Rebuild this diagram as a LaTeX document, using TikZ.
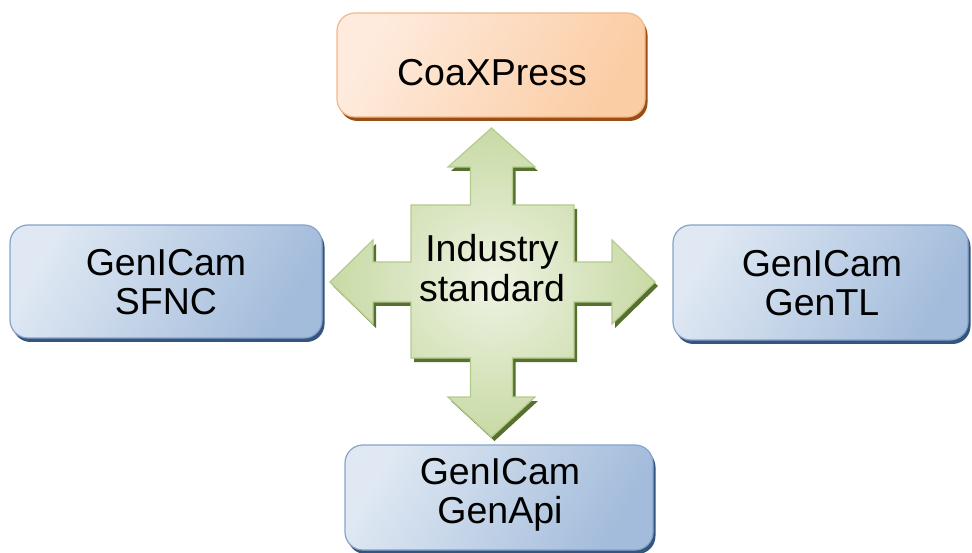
\documentclass[tikz,border=0pt]{standalone}
\usepackage{fontspec}
\setmainfont{Liberation Sans}
\usetikzlibrary{shadows}

\definecolor{blueLight}{HTML}{DFE8F3}
\definecolor{blueDark}{HTML}{A3BCDB}
\definecolor{blueLine}{HTML}{86A3CB}
\definecolor{blueShadow}{HTML}{34557E}
\definecolor{orangeLight}{HTML}{FEEBDD}
\definecolor{orangeDark}{HTML}{FBCDA5}
\definecolor{orangeLine}{HTML}{F2B887}
\definecolor{orangeShadow}{HTML}{9A4E17}
\definecolor{greenLight}{HTML}{EEF3E3}
\definecolor{greenDark}{HTML}{C8DAA5}
\definecolor{greenLine}{HTML}{B4CB8E}
\definecolor{greenShadow}{HTML}{56702E}

\begin{document}
\begin{tikzpicture}[x=1pt,y=-1pt,
  panel/.style={rounded corners=18pt, line width=1.2pt, inner sep=0pt,
    draw=#1Line, left color=#1Light, right color=#1Dark, shading angle=60,
    drop shadow={shadow xshift=2.5pt, shadow yshift=-4pt, fill=#1Shadow, opacity=1}},
  caption/.style={align=center, inner sep=0pt,
    font=\fontsize{37.5}{39.5}\selectfont}]

\useasboundingbox (0,0) rectangle (972,553);

% four boxes round the centre
\node[panel=orange, minimum width=308pt, minimum height=104pt] (cxp) at (491,65) {};
\node[panel=blue, minimum width=312pt, minimum height=113pt] (sfnc) at (166,281.5) {};
\node[panel=blue, minimum width=295pt, minimum height=115pt] (gentl) at (820.5,282.5) {};
\node[panel=blue, minimum width=308pt, minimum height=105pt] (genapi) at (499,497.5) {};

\node[caption] (cxpText) at (492,73) {CoaXPress};
\node[caption] (sfncText) at (166,282) {GenICam\\SFNC};
\node[caption] (gentlText) at (822,283) {GenICam\\GenTL};
\node[caption] (genapiText) at (500,495) {GenICam\\GenApi};

% four-way arrow in the middle
\def\crosspath{(491.5,128) -- (535,167) -- (512.5,167) -- (512.5,205) -- (574,205)
  -- (574,262) -- (612,262) -- (612,240) -- (655,282) -- (612,324) -- (612,302)
  -- (574,302) -- (574,358) -- (512.5,358) -- (512.5,397) -- (535,397)
  -- (491.5,437) -- (448,397) -- (470.5,397) -- (470.5,358) -- (411,358)
  -- (411,302) -- (373,302) -- (373,324) -- (330,282) -- (373,240) -- (373,262)
  -- (411,262) -- (411,205) -- (470.5,205) -- (470.5,167) -- (448,167) -- cycle}
\fill[greenShadow, shift={(3,4)}] \crosspath;
\shade[inner color=greenLight, outer color=greenDark] \crosspath;
\draw[greenLine, line width=1.2pt, line join=miter] \crosspath;

\node[caption] (stdText) at (492,268) {Industry\\standard};
\end{tikzpicture}
\end{document}
